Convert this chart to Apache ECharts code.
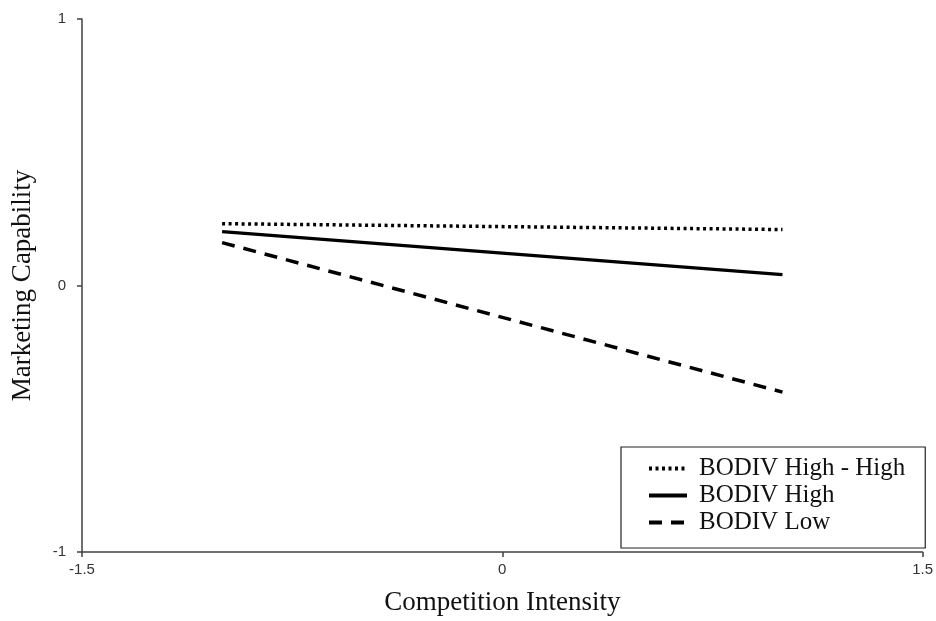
<!DOCTYPE html>
<html>
<head>
<meta charset="utf-8">
<script src="https://cdn.jsdelivr.net/npm/echarts@6/dist/echarts.min.js"></script>
<style>
  html, body { margin: 0; padding: 0; background: #fff; }
  #chart { width: 936px; height: 621px; }
</style>
</head>
<body>
<div id="chart"></div>
<script>
// Simple-slope plot: marketing capability vs. competition intensity
const xPoints = [-1, 1];
const seriesNames = ['BODIV High - High', 'BODIV High', 'BODIV Low'];
const highHigh = [0.232, 0.210];
const high = [0.202, 0.041];
const low = [0.161, -0.400];
const xTicks = [-1.5, 0, 1.5];
const yTicks = [-1, 0, 1];

const toPairs = (ys) => xPoints.map((x, i) => [x, ys[i]]);

const chart = echarts.init(document.getElementById('chart'));
const serif = '"Liberation Serif", "Times New Roman", serif';
const sans = '"Liberation Sans", Arial, sans-serif';
const axisColor = '#404040';

chart.setOption({
  animation: false,
  backgroundColor: '#fff',
  grid: { left: 82, right: 11, top: 19, bottom: 68, containLabel: false },
  xAxis: {
    type: 'value',
    min: -1.5, max: 1.5, interval: 1.5,
    name: 'Competition Intensity',
    nameLocation: 'middle',
    nameGap: 37,
    nameTextStyle: { fontFamily: serif, fontSize: 27, color: '#111' },
    axisLine: { show: true, onZero: false, lineStyle: { color: axisColor, width: 1.5 } },
    axisTick: { show: true, inside: false, length: 5, lineStyle: { color: axisColor, width: 1.5 } },
    axisLabel: {
      fontFamily: sans, fontSize: 15, color: '#333', margin: 10,
      formatter: (v) => (xTicks.includes(v) ? String(v) : '')
    },
    splitLine: { show: false }
  },
  yAxis: {
    type: 'value',
    min: -1, max: 1, interval: 1,
    name: 'Marketing Capability',
    nameLocation: 'middle',
    nameGap: 46,
    nameRotate: 90,
    nameTextStyle: { fontFamily: serif, fontSize: 27, color: '#111' },
    axisLine: { show: true, onZero: false, lineStyle: { color: axisColor, width: 1.5 } },
    axisTick: { show: true, inside: false, length: 5, lineStyle: { color: axisColor, width: 1.5 } },
    axisLabel: {
      fontFamily: sans, fontSize: 15, color: '#333', margin: 16,
      formatter: (v) => (yTicks.includes(v) ? String(v) : '')
    },
    splitLine: { show: false }
  },
  legend: {
    orient: 'vertical',
    left: 621,
    top: 447,
    padding: [8, 20, 12, 26],
    itemGap: 0,
    itemWidth: 38,
    itemHeight: 14,
    backgroundColor: '#fff',
    borderColor: '#222',
    borderWidth: 1.2,
    itemStyle: { opacity: 0 },
    lineStyle: { width: 4 },
    textStyle: { fontFamily: serif, fontSize: 25, lineHeight: 27, color: '#111', padding: [0, 0, 0, 7] },
    data: seriesNames
  },
  series: [
    {
      name: seriesNames[0], type: 'line', data: toPairs(highHigh),
      symbol: 'none', lineStyle: { color: '#000', width: 3.5, type: [3, 3.5] },
      itemStyle: { color: '#000' }
    },
    {
      name: seriesNames[1], type: 'line', data: toPairs(high),
      symbol: 'none', lineStyle: { color: '#000', width: 3.2, type: 'solid' },
      itemStyle: { color: '#000' }
    },
    {
      name: seriesNames[2], type: 'line', data: toPairs(low),
      symbol: 'none', lineStyle: { color: '#000', width: 3.5, type: [13, 9] },
      itemStyle: { color: '#000' }
    }
  ]
});
</script>
</body>
</html>
